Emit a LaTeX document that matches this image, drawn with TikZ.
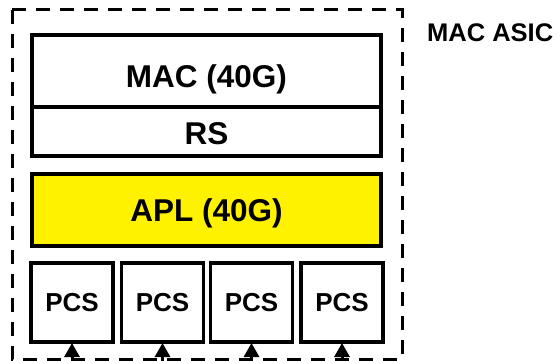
\documentclass[tikz,border=0pt]{standalone}
\usepackage{fontspec}
\setmainfont{Liberation Sans}
\usetikzlibrary{arrows.meta}
\begin{document}
\begin{tikzpicture}[x=1pt,y=-1pt,
  layer/.style={draw=black,line width=3.5pt,inner sep=0pt,outer sep=0pt,
    minimum width=349pt,text height=22.5pt,text depth=0pt,
    font=\fontsize{31.5}{33}\selectfont\bfseries},
  pcsbox/.style={draw=black,line width=3.5pt,inner sep=0pt,outer sep=0pt,
    minimum width=82pt,minimum height=79pt,text height=18.6pt,text depth=0pt,
    font=\fontsize{26}{28}\selectfont\bfseries},
  asic/.style={draw=black,line width=3pt,dash pattern=on 14pt off 10pt},
  feed/.style={line width=3pt,-{Triangle[width=15pt,length=14pt]}}]
  \useasboundingbox (0,0) rectangle (560,361);
  % ASIC boundary
  \draw[asic] (12,10) rectangle (402,359);
  \node[anchor=base west,inner sep=0pt,font=\fontsize{25.5}{27}\selectfont\bfseries] (asiclabel) at (427,42) {MAC ASIC};
  % MAC and reconciliation sublayer
  \node[layer,minimum height=72pt,text height=32.5pt] (mac) at (206.5,71) {MAC (40G)};
  \node[layer,minimum height=49pt,text height=26.5pt] (rs) at (206.5,131.5) {RS};
  % APL
  \node[layer,minimum height=72pt,fill=yellow] (apl) at (206.5,210) {APL (40G)};
  % PCS lanes
  \node[pcsbox] (pcs1) at (72,302.5) {PCS};
  \node[pcsbox] (pcs2) at (162.5,302.5) {PCS};
  \node[pcsbox] (pcs3) at (251.5,302.5) {PCS};
  \node[pcsbox] (pcs4) at (342,302.5) {PCS};
  % incoming lanes
  \foreach \i in {1,...,4} {
    \coordinate (in\i) at ([yshift=-30pt]pcs\i.south);
    \draw[feed] (in\i) -- ([yshift=-1pt]pcs\i.south);
  }
\end{tikzpicture}
\end{document}
